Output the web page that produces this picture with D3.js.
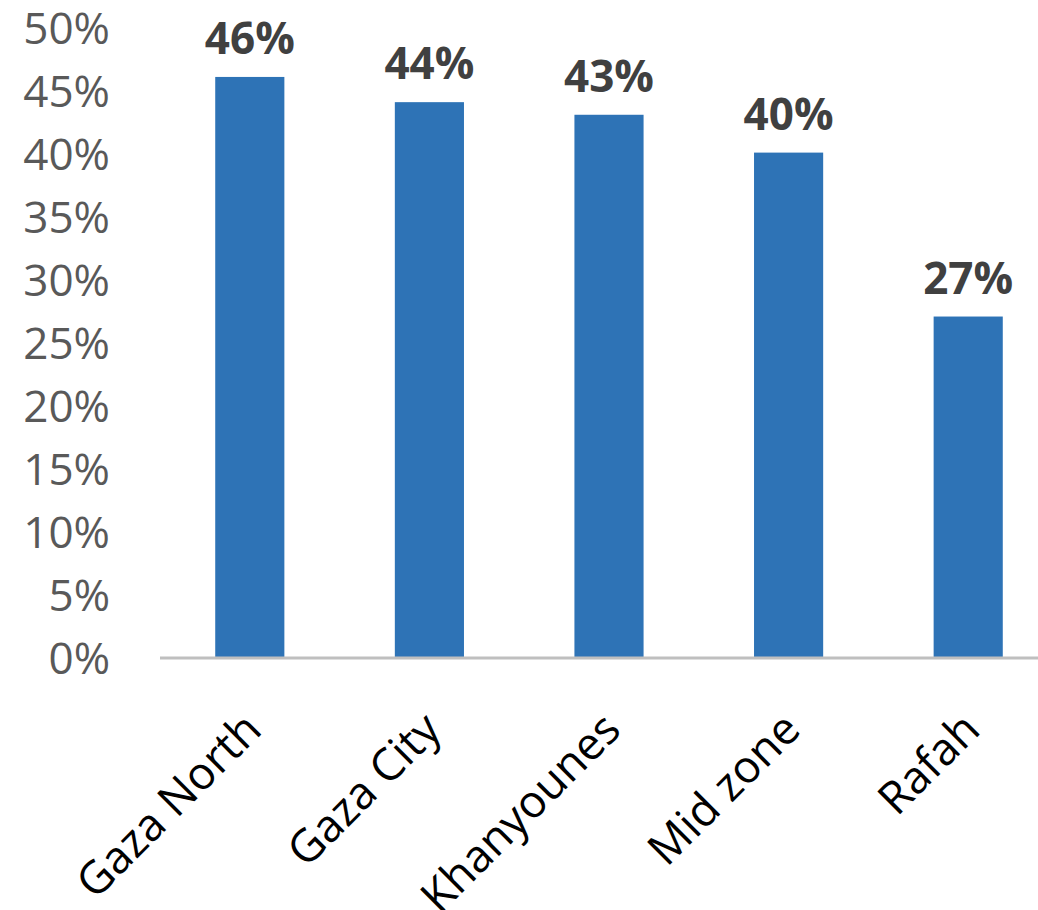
<!DOCTYPE html>
<html>
<head>
<meta charset="utf-8">
<script src="https://cdn.jsdelivr.net/npm/d3@7"></script>
<style>
  body { margin: 0; background: #fff; }
  text { font-family: "Open Sans", sans-serif; }
</style>
</head>
<body>
<script>
var categories = ['Gaza North', 'Gaza City', 'Khanyounes', 'Mid zone', 'Rafah'];
var values     = [0.46, 0.44, 0.43, 0.40, 0.27];
var yTicks     = [0, 0.05, 0.10, 0.15, 0.20, 0.25, 0.30, 0.35, 0.40, 0.45, 0.50];

var width = 1038, height = 910;

var svg = d3.select('body').append('svg')
            .attr('width', width)
            .attr('height', height);

var x = d3.scaleBand()
          .domain(categories)
          .range([160, 1058])
          .paddingInner(0.615)
          .paddingOuter(0.3075);

var y = d3.scaleLinear()
          .domain([0, 0.5])
          .range([657, 26.5]);

// y axis labels
svg.append('g').selectAll('text')
   .data(yTicks)
   .enter().append('text')
   .attr('x', 110)
   .attr('y', function(d){ return y(d); })
   .attr('text-anchor', 'end')
   .attr('dominant-baseline', 'central')
   .attr('font-size', 44)
   .attr('fill', '#595959')
   .text(function(d){ return Math.round(d * 100) + '%'; });

// bars
svg.append('g').selectAll('rect')
   .data(values)
   .enter().append('rect')
   .attr('x', function(d, i){ return x(categories[i]); })
   .attr('y', function(d){ return y(d); })
   .attr('width', x.bandwidth())
   .attr('height', function(d){ return y(0) - y(d); })
   .attr('fill', '#2e73b6');

// baseline
svg.append('line')
   .attr('x1', 160).attr('x2', width)
   .attr('y1', y(0) + 1).attr('y2', y(0) + 1)
   .attr('stroke', '#bfbfbf')
   .attr('stroke-width', 3);

// value labels
svg.append('g').selectAll('text')
   .data(values)
   .enter().append('text')
   .attr('x', function(d, i){ return x(categories[i]) + x.bandwidth() / 2; })
   .attr('y', function(d){ return y(d) - 23; })
   .attr('text-anchor', 'middle')
   .attr('font-size', 44)
   .attr('font-weight', 'bold')
   .attr('fill', '#404040')
   .text(function(d){ return Math.round(d * 100) + '%'; });

// category labels
svg.append('g').selectAll('text')
   .data(categories)
   .enter().append('text')
   .attr('transform', function(d){
     var cx = x(d) + x.bandwidth() / 2 + 14;
     return 'translate(' + cx + ',' + 732 + ') rotate(-45)';
   })
   .attr('text-anchor', 'end')
   .attr('font-size', 45)
   .attr('fill', '#000')
   .text(function(d){ return d; });
</script>
</body>
</html>
